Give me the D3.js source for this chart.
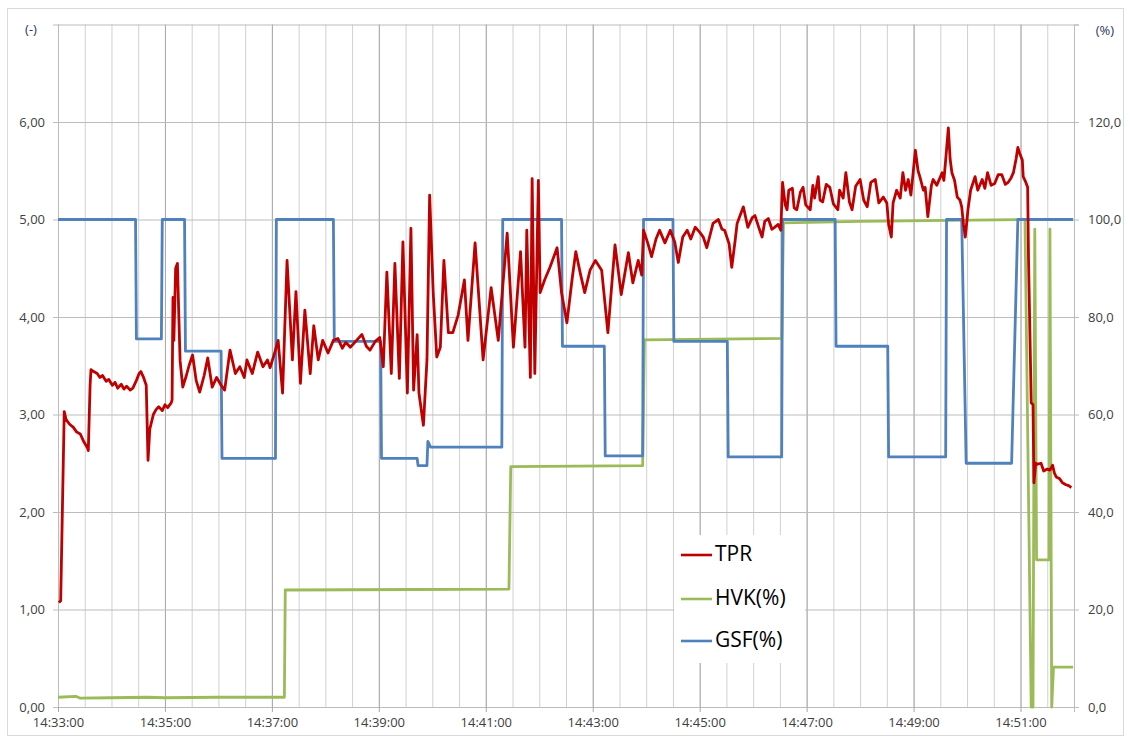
<!DOCTYPE html>
<html>
<head>
<meta charset="utf-8">
<script src="https://cdn.jsdelivr.net/npm/d3@7"></script>
<style>
body { margin: 0; background: #fff; }
text { font-family: "Open Sans", sans-serif; }
</style>
</head>
<body>
<div id="chart"></div>
<script>
let width = 1130
let height = 740

// readings: [seconds after 14:33:00, value]
let tprReadings = [[1,1.07],[3,1.09],[7,3.03],[9,2.95],[13,2.90],[17,2.87],[21,2.82],[25,2.80],[29,2.72],[33,2.66],[34,2.63],[36,3.30],[37,3.46],[40,3.44],[44,3.42],[47,3.38],[50,3.40],[54,3.34],[57,3.36],[61,3.30],[64,3.33],[67,3.27],[71,3.31],[74,3.26],[77,3.29],[81,3.25],[84,3.27],[88,3.35],[91,3.42],[93,3.44],[96,3.38],[99,3.30],[101,2.53],[103,2.85],[107,3.00],[110,3.05],[113,3.08],[117,3.04],[120,3.10],[123,3.07],[127,3.12],[128,3.15],[129,4.20],[130,3.76],[132,4.50],[134,4.55],[135,4.20],[137,3.55],[140,3.28],[144,3.40],[147,3.50],[151,3.61],[155,3.35],[159,3.23],[164,3.40],[168,3.58],[173,3.28],[178,3.38],[183,3.30],[187,3.25],[193,3.66],[199,3.42],[204,3.49],[209,3.38],[212,3.56],[218,3.42],[224,3.64],[230,3.49],[235,3.56],[238,3.48],[243,3.63],[247,3.76],[252,3.22],[257,4.58],[263,3.56],[267,4.26],[272,3.32],[277,4.07],[283,3.42],[287,3.91],[292,3.56],[297,3.76],[303,3.63],[309,3.76],[314,3.78],[319,3.68],[323,3.74],[328,3.69],[335,3.76],[341,3.82],[346,3.70],[350,3.66],[356,3.75],[361,3.79],[365,3.49],[369,4.46],[374,3.42],[378,4.55],[383,3.37],[387,4.77],[392,3.22],[396,4.91],[399,3.25],[403,3.82],[405,3.22],[410,2.89],[414,3.56],[417,5.25],[421,4.25],[425,3.59],[429,3.69],[433,4.58],[438,3.84],[443,3.84],[449,4.02],[456,4.38],[460,3.76],[468,4.76],[477,3.56],[486,4.30],[494,3.76],[504,4.86],[511,3.69],[519,4.67],[524,3.69],[526,4.89],[530,3.38],[532,5.42],[535,3.42],[539,5.40],[541,4.25],[546,4.38],[552,4.51],[560,4.71],[565,4.25],[571,3.94],[577,4.40],[581,4.67],[586,4.45],[591,4.25],[597,4.48],[603,4.58],[610,4.48],[617,3.84],[625,4.74],[632,4.23],[640,4.66],[645,4.35],[651,4.58],[655,4.43],[657,4.89],[662,4.75],[666,4.62],[671,4.80],[675,4.89],[681,4.76],[687,4.89],[692,4.77],[696,4.56],[701,4.82],[706,4.89],[710,4.80],[715,4.92],[720,4.87],[724,4.82],[728,4.71],[735,4.96],[741,5.00],[745,4.90],[748,4.89],[753,4.75],[756,4.51],[760,4.80],[762,4.96],[769,5.13],[774,4.92],[779,5.02],[782,5.04],[787,4.90],[790,4.82],[793,4.98],[797,5.01],[801,4.90],[804,4.92],[808,4.95],[811,4.89],[813,5.38],[816,5.15],[818,5.10],[820,5.30],[824,5.32],[826,5.12],[829,5.10],[833,5.28],[836,5.33],[839,5.15],[844,5.10],[847,5.35],[849,5.22],[853,5.44],[855,5.20],[858,5.18],[862,5.36],[866,5.33],[870,5.16],[875,5.10],[877,5.30],[881,5.22],[884,5.48],[888,5.18],[891,5.10],[895,5.34],[900,5.41],[904,5.20],[908,5.13],[912,5.38],[917,5.41],[921,5.17],[926,5.23],[930,5.17],[932,4.95],[935,4.82],[937,5.17],[941,5.30],[945,5.22],[948,5.48],[951,5.30],[954,5.41],[957,5.25],[962,5.71],[965,5.50],[967,5.44],[971,5.30],[973,5.33],[976,5.03],[980,5.35],[982,5.41],[986,5.35],[992,5.48],[994,5.40],[996,5.61],[999,5.94],[1001,5.62],[1003,5.48],[1006,5.40],[1009,5.23],[1012,5.20],[1014,5.13],[1016,4.95],[1018,4.82],[1020,5.00],[1021,5.10],[1024,5.30],[1029,5.44],[1032,5.30],[1037,5.41],[1040,5.32],[1043,5.48],[1047,5.35],[1051,5.37],[1055,5.46],[1059,5.46],[1063,5.36],[1066,5.38],[1069,5.42],[1072,5.48],[1075,5.62],[1077,5.74],[1079,5.68],[1082,5.61],[1083,5.44],[1086,5.38],[1088,5.33],[1089,4.58],[1092,3.12],[1094,3.10],[1095,2.30],[1097,2.50],[1099,2.49],[1103,2.50],[1106,2.42],[1110,2.44],[1113,2.43],[1116,2.48],[1118,2.40],[1120,2.36],[1124,2.34],[1127,2.30],[1131,2.28],[1134,2.27],[1137,2.25]]

let hvkReadings = [[0,2.0],[20,2.2],[25,1.8],[60,1.9],[100,2.0],[120,1.9],[180,2.0],[254,2.0],[255,24.0],[400,24.1],[506,24.2],[508,49.3],[656,49.5],[658,75.3],[812,75.6],[814,99.3],[900,99.6],[1085,100],[1092,0],[1094,0],[1096,98],[1098,30.2],[1112,30.2],[1113,98],[1115,0],[1117,8.2],[1139,8.2]]

let gsfReadings = [[0,100],[87,100],[88,75.5],[116,75.5],[117,100],[142,100],[143,73],[183,73],[184,51],[244,51],[245,100],[309,100],[310,75],[362,75],[363,51],[403,51],[404,49.5],[414,49.5],[415,54.5],[418,53.3],[498,53.3],[499,100],[565,100],[566,74],[613,74],[614,51.5],[656,51.5],[657,100],[690,100],[691,75],[751,75],[752,51.3],[812,51.3],[813,100],[872,100],[873,74],[931,74],[932,51.3],[996,51.3],[997,100],[1014,100],[1019,50],[1070,50],[1077,100],[1139,100]]

// x ticks: seconds after 14:33:00 (labels every 2 min, grid every 30 s)
let xTickSeconds = [0, 120, 240, 360, 480, 600, 720, 840, 960, 1080]
let xGridSeconds = d3.range(0, 1141, 30)
let leftTicks = [0, 1, 2, 3, 4, 5, 6, 7]
let rightTicks = [0, 20, 40, 60, 80, 100, 120, 140]
let seriesNames = ['TPR', 'HVK(%)', 'GSF(%)']
let seriesColors = ['#c00000', '#9bbb59', '#4f81bd']

let margin = { top: 24.5, right: 56, bottom: 33, left: 58 }
let plotW = width - margin.left - margin.right
let plotH = height - margin.top - margin.bottom

let start = new Date(2000, 0, 1, 14, 33, 0)
let toDate = (s) => new Date(start.getTime() + s * 1000)

let xScale = d3.scaleTime()
  .domain([start, toDate(19 * 60)])
  .range([0, plotW])

let yLeft = d3.scaleLinear().domain([0, 7]).range([plotH, 0])
let yRight = d3.scaleLinear().domain([0, 140]).range([plotH, 0])

let svg = d3.select('#chart').append('svg')
  .attr('width', width)
  .attr('height', height)

// chart border
svg.append('rect')
  .attr('x', 7.5).attr('y', 8.5)
  .attr('width', 1116).attr('height', 727)
  .attr('fill', 'none').attr('stroke', '#d9d9d9')

let inner = svg.append('g')
  .attr('transform', 'translate(' + margin.left + ',' + margin.top + ')')

// minor vertical gridlines every 30 s
inner.append('g')
  .call(d3.axisBottom(xScale).tickValues(xGridSeconds.map(toDate)).tickSize(plotH).tickFormat(''))
  .call(g => g.select('.domain').remove())
  .call(g => g.selectAll('line').attr('stroke', '#d0d0d0'))

// major vertical gridlines every 2 min
inner.append('g')
  .call(d3.axisBottom(xScale).tickValues(xTickSeconds.map(toDate)).tickSize(plotH).tickFormat(''))
  .call(g => g.select('.domain').remove())
  .call(g => g.selectAll('line').attr('stroke', '#a8a8a8'))

// horizontal gridlines
inner.append('g')
  .call(d3.axisLeft(yLeft).tickValues(leftTicks).tickSize(-plotW - 5).tickFormat(''))
  .attr('transform', 'translate(-5,0)')
  .call(g => g.select('.domain').remove())
  .call(g => g.selectAll('line').attr('stroke', '#bcbcbc'))

// right side tick marks
inner.append('g')
  .attr('transform', 'translate(' + plotW + ',0)')
  .call(d3.axisRight(yRight).tickValues(rightTicks).tickSize(5).tickFormat(''))
  .call(g => g.select('.domain').attr('stroke', '#bcbcbc'))
  .call(g => g.selectAll('line').attr('stroke', '#bcbcbc'))

// left axis labels
inner.append('g')
  .call(d3.axisLeft(yLeft).tickValues(leftTicks.slice(0, 7)).tickSize(0).tickPadding(13)
    .tickFormat(d => d3.format('.2f')(d).replace('.', ',')))
  .call(g => g.select('.domain').attr('stroke', '#bcbcbc'))
  .call(g => g.selectAll('text').attr('fill', '#404040').style('font-size', '13px'))

// right axis labels
inner.append('g')
  .attr('transform', 'translate(' + plotW + ',0)')
  .call(d3.axisRight(yRight).tickValues(rightTicks.slice(0, 7)).tickSize(0).tickPadding(14)
    .tickFormat(d => d3.format('.1f')(d).replace('.', ',')))
  .call(g => g.select('.domain').remove())
  .call(g => g.selectAll('text').attr('fill', '#404040').style('font-size', '13px'))

// bottom axis
inner.append('g')
  .attr('transform', 'translate(0,' + plotH + ')')
  .call(d3.axisBottom(xScale).tickValues(xTickSeconds.map(toDate)).tickSize(5).tickPadding(6)
    .tickFormat(d3.timeFormat('%H:%M:%S')))
  .call(g => g.select('.domain').attr('stroke', '#bcbcbc'))
  .call(g => g.selectAll('line').attr('stroke', '#a8a8a8'))
  .call(g => g.selectAll('text').attr('fill', '#404040').style('font-size', '13px'))

svg.append('text').attr('x', 31).attr('y', 31)
  .attr('text-anchor', 'middle').attr('dominant-baseline', 'middle')
  .attr('fill', '#1f3864').style('font-size', '13px').text('(-)')
svg.append('text').attr('x', 1105).attr('y', 32)
  .attr('text-anchor', 'middle').attr('dominant-baseline', 'middle')
  .attr('fill', '#1f3864').style('font-size', '13px').text('(%)')

let lineLeft = d3.line()
  .x(d => xScale(toDate(d[0])))
  .y(d => yLeft(d[1]))
let lineRight = d3.line()
  .x(d => xScale(toDate(d[0])))
  .y(d => yRight(d[1]))

let lines = inner.append('g')
  .attr('fill', 'none')
  .attr('stroke-width', 2.8)
  .attr('stroke-linejoin', 'round')

lines.append('path').datum(hvkReadings).attr('d', lineRight).attr('stroke', seriesColors[1])
lines.append('path').datum(gsfReadings).attr('d', lineRight).attr('stroke', seriesColors[2])
lines.append('path').datum(tprReadings).attr('d', lineLeft).attr('stroke', seriesColors[0])

// legend
let legend = svg.append('g').attr('transform', 'translate(674,535)')
legend.append('rect').attr('width', 131).attr('height', 128).attr('fill', '#fff')
let entries = legend.selectAll('g.entry')
  .data(seriesNames)
  .enter().append('g')
  .attr('transform', (d, i) => 'translate(0,' + [20, 64, 106][i] + ')')
entries.append('line')
  .attr('x1', 7).attr('x2', 38)
  .attr('stroke', (d, i) => seriesColors[i]).attr('stroke-width', 2.6)
entries.append('text')
  .attr('x', 41).attr('dominant-baseline', 'middle')
  .attr('fill', '#000').style('font-size', '21px')
  .text(d => d)
</script>
</body>
</html>
